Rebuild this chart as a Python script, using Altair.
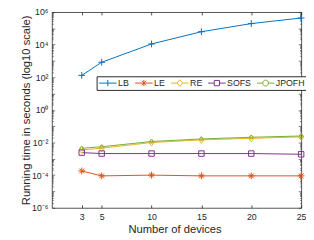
import altair as alt
import pandas as pd

# ---- data ----
devices = [3, 5, 10, 15, 20, 25]
series = ["LB", "LE", "RE", "SOFS", "JPOFH"]
lb = [130, 830, 11000, 62000, 195000, 430000]
le = [1.8e-4, 9.0e-5, 1.0e-4, 9.0e-5, 9.0e-5, 9.0e-5]
re = [0.0035, 0.0045, 0.0100, 0.0145, 0.0180, 0.0220]
sofs = [0.0024, 0.0021, 0.0021, 0.0021, 0.0021, 0.0019]
jpofh = [0.0044, 0.0055, 0.0115, 0.0165, 0.0210, 0.0250]
colors = ["#0072BD", "#D95319", "#EDB120", "#7E2F8E", "#77AC30"]
y_label_values = [1e-6, 1e-4, 1e-2, 1e0, 1e2, 1e4, 1e6]

values = [lb, le, re, sofs, jpofh]
df = pd.DataFrame({
    "devices": devices * len(series),
    "series": [s for s in series for _ in devices],
    "time": [v for vals in values for v in vals],
})

F = "Liberation Sans"
AXC = "#262626"
W, H = 256, 201

y_tick_values = [float(f"{m}e{k}") for k in range(-6, 6) for m in range(1, 10)] + [1e6]
major_test = "abs(log(datum.value)/LN10 - round(log(datum.value)/LN10)) < 0.001"

xs = alt.Scale(domain=[0, 25], nice=False, zero=False)
ys = alt.Scale(type="log", domain=[1e-6, 1e6], nice=False)
cs = alt.Scale(domain=series, range=colors)

label_expr = (
    "datum.value < 1e-5 ? '10⁻⁶' : datum.value < 1e-3 ? '10⁻⁴' : "
    "datum.value < 1e-1 ? '10⁻²' : datum.value < 10 ? '10⁰' : "
    "datum.value < 1e3 ? '10²' : datum.value < 1e5 ? '10⁴' : '10⁶'"
)

# marker shapes (unit paths)
marker_paths = [
    "M-1,0L1,0M0,-1L0,1",
    "M-1,0L1,0M0,-1L0,1M-0.7,-0.7L0.7,0.7M-0.7,0.7L0.7,-0.7",
    "M0,-1L0.8,0L0,1L-0.8,0Z",
    "M-0.8,-0.8L0.8,-0.8L0.8,0.8L-0.8,0.8Z",
    "M1,0A1,1 0 1,1 -1,0A1,1 0 1,1 1,0Z",
]
legend_paths = [
    "M-1,0L1,0M0,-0.36L0,0.36",
    "M-1,0L1,0M0,-0.36L0,0.36M-0.26,-0.26L0.26,0.26M-0.26,0.26L0.26,-0.26",
    "M-1,0L-0.32,0M0.32,0L1,0M0,-0.38L0.32,0L0,0.38L-0.32,0Z",
    "M-1,0L-0.3,0M0.3,0L1,0M-0.3,-0.3L0.3,-0.3L0.3,0.3L-0.3,0.3Z",
    "M-1,0L-0.33,0M0.33,0L1,0M0.33,0A0.33,0.33 0 1,1 -0.33,0A0.33,0.33 0 1,1 0.33,0",
]

# main axes: labels + titles, no ticks
x_axis_main = alt.Axis(
    orient="bottom", values=devices, ticks=False, tickSize=0, labelPadding=5,
    domainColor=AXC, domainWidth=0.8, labelFont=F, labelFontSize=9, labelColor=AXC,
    labelFlush=False, grid=False, title="Number of devices", titleFont=F,
    titleFontSize=11.5, titleFontWeight="normal", titleColor=AXC,
    titleX=W / 2 - 2, titleY=22, titleBaseline="middle",
)
y_axis_main = alt.Axis(
    orient="left", values=y_label_values, ticks=False, tickSize=0, labelPadding=4,
    labelExpr=label_expr, domainColor=AXC, domainWidth=0.8, labelFont=F,
    labelFontSize=9, labelColor=AXC, grid=False,
    title="Running time in seconds (log10 scale)", titleFont=F, titleFontSize=11.5,
    titleFontWeight="normal", titleColor=AXC, titleX=-26, titleY=H / 2,
    titleBaseline="middle", titleAngle=-90,
)
# inward tick axes (bottom edge & left edge)
x_axis_b = alt.Axis(orient="top", offset=-H, values=devices, labels=False, domain=False,
                    ticks=True, tickSize=3, tickColor=AXC, tickWidth=0.8, grid=False, title=None)
y_axis_b = alt.Axis(orient="right", offset=-W, values=y_tick_values, labels=False, domain=False,
                    ticks=True, tickColor=AXC, tickWidth=0.6, grid=False, title=None,
                    tickSize={"condition": {"test": major_test, "value": 3}, "value": 1.5})
# top edge & right edge (box + inward ticks)
x_axis_c = alt.Axis(orient="bottom", offset=-H, values=devices, labels=False, domain=True,
                    domainColor=AXC, domainWidth=0.8,
                    ticks=True, tickSize=3, tickColor=AXC, tickWidth=0.8, grid=False, title=None)
y_axis_c = alt.Axis(orient="left", offset=-W, values=y_tick_values, labels=False, domain=True,
                    domainColor=AXC, domainWidth=0.8,
                    ticks=True, tickColor=AXC, tickWidth=0.6, grid=False, title=None,
                    tickSize={"condition": {"test": major_test, "value": 3}, "value": 1.5})

leg = alt.Legend(
    orient="none", legendX=46, legendY=66, direction="horizontal", columns=5,
    title=None, strokeColor=AXC, fillColor="white", padding=2, symbolSize=324,
    symbolStrokeWidth=1, clipHeight=10, labelFont=F, labelFontSize=9, labelColor=AXC,
    labelOffset=1, columnPadding=5, symbolFillColor="transparent", symbolType="circle",
)

lines = alt.Chart(df).mark_line(strokeWidth=1).encode(
    x=alt.X("devices:Q", scale=xs, axis=x_axis_main),
    y=alt.Y("time:Q", scale=ys, axis=y_axis_main),
    color=alt.Color("series:N", scale=cs, legend=leg),
)

marker_sizes = [49, 49, 49, 49, 12]
point_layers = []
for i, s in enumerate(series):
    pl = alt.Chart(df).transform_filter(alt.datum.series == s).mark_point(
        shape=marker_paths[i], filled=False, size=marker_sizes[i], strokeWidth=1, opacity=1
    ).encode(
        x=alt.X("devices:Q", scale=xs, axis=x_axis_b if i == 0 else None),
        y=alt.Y("time:Q", scale=ys, axis=y_axis_b if i == 0 else None),
        color=alt.Color("series:N", scale=cs, legend=leg),
    )
    point_layers.append(pl)

legend_layer = alt.Chart(df).transform_filter("false").mark_point(filled=False, strokeWidth=1).encode(
    x=alt.X("devices:Q", scale=xs, axis=x_axis_c),
    y=alt.Y("time:Q", scale=ys, axis=y_axis_c),
    color=alt.Color("series:N", scale=cs, legend=leg),
    shape=alt.Shape("series:N", scale=alt.Scale(domain=series, range=legend_paths), legend=leg),
)

chart = alt.layer(lines, *point_layers, legend_layer).resolve_axis(
    x="independent", y="independent"
).properties(
    width=W, height=H,
    autosize=alt.AutoSizeParams(type="none"),
    padding={"left": 45, "top": 1, "right": 5, "bottom": 30},
).configure_view(stroke=None)

chart.save("out.html", embed_options={"renderer": "svg", "actions": False})
